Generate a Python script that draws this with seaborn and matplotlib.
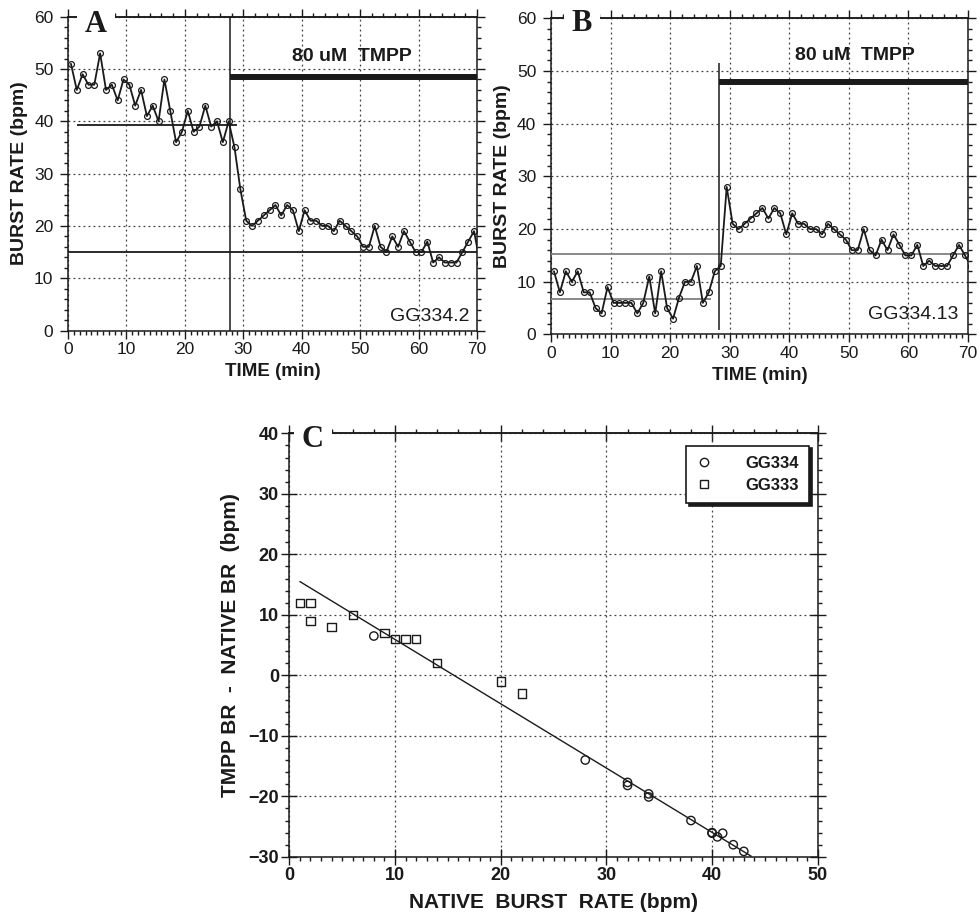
import numpy as np
import pandas as pd
import matplotlib
matplotlib.use("Agg")
import matplotlib.pyplot as plt
from matplotlib.lines import Line2D
from matplotlib.ticker import MultipleLocator, NullFormatter
import seaborn as sns

# ---------------- data ----------------
time_min = np.arange(0.5, 71.0, 1.0)

rate_a = [51, 46, 49, 47, 47, 53, 46, 47, 44, 48,
          47, 43, 46, 41, 43, 40, 48, 42, 36, 38,
          42, 38, 39, 43, 39, 40, 36, 40, 35, 27,
          21, 20, 21, 22, 23, 24, 22, 24, 23, 19,
          23, 21, 21, 20, 20, 19, 21, 20, 19, 18,
          16, 16, 20, 16, 15, 18, 16, 19, 17, 15,
          15, 17, 13, 14, 13, 13, 13, 15, 17, 19, 13]

rate_b = [12, 8, 12, 10, 12, 8, 8, 5, 4, 9,
          6, 6, 6, 6, 4, 6, 11, 4, 12, 5,
          3, 7, 10, 10, 13, 6, 8, 12, 13, 28,
          21, 20, 21, 22, 23, 24, 22, 24, 23, 19,
          23, 21, 21, 20, 20, 19, 21, 20, 19, 18,
          16, 16, 20, 16, 15, 18, 16, 19, 17, 15,
          15, 17, 13, 14, 13, 13, 13, 15, 17, 15, 13]

# reference levels / drug application
a_native_level, a_native_span = 39.2, (1.5, 29.0)
a_tmpp_level = 15.1
a_drug_on = 27.8
b_native_level, b_native_span = 6.8, (0.0, 26.9)
b_tmpp_level = 15.3
b_drug_on = 28.2
b_drug_line_span = (0.9, 51.5)

# panel C
gg334_native = [8, 28, 32, 32, 34, 34, 38, 40, 40, 40.5, 41, 42, 43]
gg334_diff = [6.5, -14, -17.7, -18.2, -19.6, -20.1, -24, -26, -26.1, -26.7, -26.1, -28, -29.1]
gg333_native = [1, 2, 2, 4, 6, 9, 10, 11, 12, 14, 20, 22]
gg333_diff = [12, 12, 9, 8, 10, 7, 6, 6, 6, 2, -1, -3]
fit_x = [1.0, 43.7]
fit_y = [15.5, -29.9]

# ---------------- style ----------------
sns.set_theme(style="ticks")
plt.rcParams["font.family"] = ["Liberation Sans", "DejaVu Sans"]
plt.rcParams["axes.edgecolor"] = "k"
plt.rcParams["xtick.color"] = "k"
plt.rcParams["ytick.color"] = "k"
plt.rcParams["text.color"] = "k"
plt.rcParams["axes.labelcolor"] = "k"

fig = plt.figure(figsize=(9.8, 9.23), dpi=100)
axA = fig.add_axes([0.0694, 0.6419, 0.4173, 0.3400])
axB = fig.add_axes([0.5622, 0.6376, 0.4255, 0.3426])
axC = fig.add_axes([0.2952, 0.0717, 0.5393, 0.4588])

GRID = dict(color="0.25", linestyle=(0, (1.5, 2.5)), linewidth=0.9)


def style_axes(ax, xlim, ylim, xminor_bottom, xminor_top, yminor, labelsize, bold,
               major_dir, major_len, xpad, ypad):
    ax.set_xlim(*xlim)
    ax.set_ylim(*ylim)
    ax.xaxis.set_major_locator(MultipleLocator(10))
    ax.xaxis.set_minor_locator(MultipleLocator(xminor_bottom))
    ax.yaxis.set_major_locator(MultipleLocator(10))
    ax.yaxis.set_minor_locator(MultipleLocator(yminor))
    ax.tick_params(which="both", top=False, right=True, labelright=False,
                   width=1.0, color="k", labelsize=labelsize)
    ax.tick_params(axis="x", which="major", pad=xpad)
    ax.tick_params(axis="y", which="major", pad=ypad)
    ax.tick_params(which="major", direction=major_dir, length=major_len)
    ax.tick_params(which="minor", direction="out", length=3)
    for s in ax.spines.values():
        s.set_visible(True)
        s.set_color("k")
        s.set_linewidth(1.1)
    ax.grid(True, which="major", **GRID)
    ax.set_axisbelow(True)
    sec = ax.secondary_xaxis("top")
    sec.xaxis.set_major_locator(MultipleLocator(10))
    sec.xaxis.set_minor_locator(MultipleLocator(xminor_top))
    sec.xaxis.set_major_formatter(NullFormatter())
    sec.tick_params(which="both", width=1.0, color="k")
    sec.tick_params(which="major", direction=major_dir, length=major_len)
    sec.tick_params(which="minor", direction="out", length=3)
    sec.spines["top"].set_linewidth(1.1)
    if bold:
        for lab in ax.get_xticklabels() + ax.get_yticklabels():
            lab.set_fontweight("bold")


def panel_letter(ax, x, y, letter):
    ax.text(x, y, letter, ha="left", va="baseline", fontsize=22, fontweight="bold",
            family=["Liberation Serif", "DejaVu Serif"], zorder=20, clip_on=False,
            bbox=dict(boxstyle="square,pad=0.25", fc="white", ec="none"))


def time_panel(ax, rate, native_level, native_span, native_color, tmpp_level, drug_on,
               drug_line_span, bar_y, text_x, text_y, tag, tag_x, tag_y, letter, letter_xy):
    df = pd.DataFrame({"time": time_min, "rate": rate})
    style_axes(ax, (0, 70), (0, 60), 1, 2, 2, 12.5, False, "out", 6, 2.5, 4.5)
    ax.hlines(native_level, *native_span, color=native_color, lw=1.3, zorder=3)
    ax.axhline(tmpp_level, color=native_color, lw=1.3, zorder=3)
    ax.vlines(drug_on, *drug_line_span, color="k", lw=1.1, zorder=3)
    ax.hlines(bar_y, drug_on, 70, color="k", lw=4.3, zorder=3)
    sns.lineplot(data=df, x="time", y="rate", ax=ax, color="k", lw=1.3,
                 marker="o", markersize=4.2, markerfacecolor="none",
                 markeredgecolor="k", markeredgewidth=0.9, errorbar=None, zorder=4)
    ax.text(text_x, text_y, "80 uM  TMPP", ha="center", va="center",
            fontsize=14, fontweight="bold")
    ax.text(tag_x, tag_y, tag, ha="right", va="center", fontsize=14)
    ax.set_xlabel("TIME (min)", fontsize=13.5, fontweight="bold", labelpad=4)
    ax.set_ylabel("BURST RATE (bpm)", fontsize=14, fontweight="bold", labelpad=4)
    panel_letter(ax, letter_xy[0], letter_xy[1], letter)


time_panel(axA, rate_a, a_native_level, a_native_span, "k", a_tmpp_level, a_drug_on,
           (0, 60), 48.4, 48.6, 52.3, "GG334.2", 68.7, 2.6, "A", (2.9, 57.1))
time_panel(axB, rate_b, b_native_level, b_native_span, "0.5", b_tmpp_level, b_drug_on,
           b_drug_line_span, 48.0, 51.0, 52.9, "GG334.13", 68.4, 3.7, "B", (3.5, 57.5))

# ---------------- panel C ----------------
dfC = pd.DataFrame({
    "native": gg334_native + gg333_native,
    "diff": gg334_diff + gg333_diff,
    "group": ["GG334"] * len(gg334_native) + ["GG333"] * len(gg333_native),
})
style_axes(axC, (0, 50), (-30, 40), 1, 2, 2, 13, True, "inout", 11, 2, 2)
sns.lineplot(x=fit_x, y=fit_y, ax=axC, color="k", lw=1.0, zorder=3)
sns.scatterplot(data=dfC, x="native", y="diff", style="group",
                markers={"GG334": "o", "GG333": "s"}, s=36,
                facecolor="none", edgecolor="k", linewidth=1.0,
                legend=False, ax=axC, zorder=4)
axC.set_xlabel("NATIVE  BURST  RATE (bpm)", fontsize=15, fontweight="bold", labelpad=6)
axC.set_ylabel("TMPP BR  -  NATIVE BR  (bpm)", fontsize=15, fontweight="bold", labelpad=6)
panel_letter(axC, 1.2, 37.8, "C")

handles = [Line2D([], [], marker="o", ls="none", mfc="none", mec="k", ms=6, mew=1.0, label="GG334"),
           Line2D([], [], marker="s", ls="none", mfc="none", mec="k", ms=6, mew=1.0, label="GG333")]
leg = axC.legend(handles=handles, loc="upper right", bbox_to_anchor=(0.984, 0.971),
                 borderaxespad=0, frameon=True, fancybox=False, edgecolor="k",
                 framealpha=1, shadow={"color": "k", "alpha": 1},
                 prop={"weight": "bold", "size": 12}, handletextpad=2.0,
                 borderpad=0.6, labelspacing=0.45, handlelength=1.0)
leg.get_frame().set_linewidth(1.2)

fig.savefig("out.png", dpi=100)
